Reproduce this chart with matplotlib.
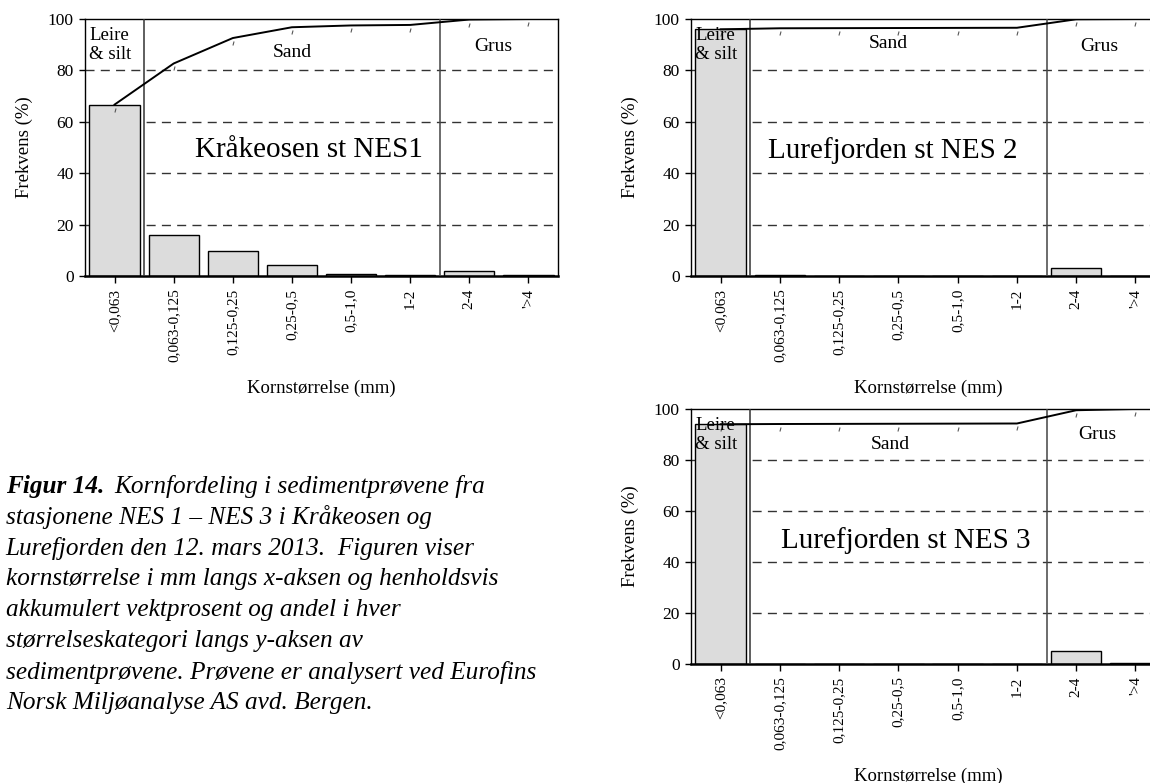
import numpy as np
import matplotlib
matplotlib.use('Agg')
import matplotlib.pyplot as plt
from matplotlib.transforms import ScaledTranslation

plt.rcParams['font.family'] = ['Liberation Serif', 'DejaVu Serif']

categories = ['<0,063', '0,063-0,125', '0,125-0,25', '0,25-0,5', '0,5-1,0', '1-2', '2-4', "'>4"]

# andel i hver stoerrelseskategori (%)
nes1 = [66.7, 16.0, 9.9, 4.2, 0.7, 0.2, 2.1, 0.2]
nes2 = [96.0, 0.4, 0.05, 0.05, 0.05, 0.05, 3.3, 0.1]
nes3 = [94.0, 0.1, 0.05, 0.05, 0.05, 0.05, 5.2, 0.5]

titles = ['Kråkeosen st NES1', 'Lurefjorden st NES 2', 'Lurefjorden st NES 3']

caption_lines = [
    'stasjonene NES 1 – NES 3 i Kråkeosen og',
    'Lurefjorden den 12. mars 2013.  Figuren viser',
    'kornstørrelse i mm langs x-aksen og henholdsvis',
    'akkumulert vektprosent og andel i hver',
    'størrelseskategori langs y-aksen av',
    'sedimentprøvene. Prøvene er analysert ved Eurofins',
    'Norsk Miljøanalyse AS avd. Bergen.',
]


def draw_panel(ax, values, title, title_pos, sand_pos, grus_pos):
    x = np.arange(len(categories))
    cum = np.cumsum(values)

    for g in [20, 40, 60, 80]:
        ax.axhline(g, color='#333333', lw=1, ls=(0, (6.5, 4.5)), zorder=0)

    ax.bar(x, values, width=0.85, color='#dcdcdc', edgecolor='black', lw=1, zorder=2)

    ax.axvline(0.5, color='#333333', lw=1.1, zorder=3)
    ax.axvline(5.5, color='#444444', lw=1.1, zorder=3)

    ax.plot(x, cum, color='black', lw=1.4, zorder=4)
    # small marks just under each point of the line
    off = ax.transData + ScaledTranslation(0, -5 / 100, ax.figure.dpi_scale_trans)
    ax.plot(x, cum, ls='none', marker=(2, 0, -15), ms=3, color='#555555',
            mew=0.8, transform=off, zorder=4)

    ax.set_xlim(-0.5, 7.5)
    ax.set_ylim(0, 100)
    ax.set_yticks([0, 20, 40, 60, 80, 100])
    ax.set_xticks(x)
    ax.set_xticklabels(categories, rotation=90, fontsize=11)
    ax.tick_params(axis='y', direction='out', length=4, width=1, pad=4, labelsize=12.5)
    ax.tick_params(axis='x', direction='out', length=5, width=1, pad=4)
    for s in ax.spines.values():
        s.set_linewidth(1)
    ax.spines['bottom'].set_linewidth(1.8)

    ax.set_ylabel('Frekvens (%)', fontsize=13.5)
    ax.yaxis.set_label_coords(-0.11, 0.5)
    ax.set_xlabel('Kornstørrelse (mm)', fontsize=13.5)
    ax.xaxis.set_label_coords(0.5, -0.405)

    ax.text(-0.43, 97, 'Leire\n& silt', fontsize=13.5, ha='left', va='top',
            linespacing=1.2, zorder=5)
    ax.text(sand_pos[0], sand_pos[1], 'Sand', fontsize=14, ha='center', va='center', zorder=5)
    ax.text(grus_pos[0], grus_pos[1], 'Grus', fontsize=14, ha='center', va='center', zorder=5)
    ax.text(title_pos[0], title_pos[1], title, fontsize=21, ha='center', va='center', zorder=5)


fig = plt.figure(figsize=(11.5, 7.83), dpi=100)

ax1 = fig.add_axes([0.0739, 0.6475, 0.4113, 0.3282])
ax2 = fig.add_axes([0.6009, 0.6475, 0.4122, 0.3282])
ax3 = fig.add_axes([0.6009, 0.1520, 0.4122, 0.3257])

draw_panel(ax1, nes1, titles[0], (3.29, 49), (3.0, 87), (6.4, 89.5))
draw_panel(ax2, nes2, titles[1], (2.9, 49), (2.83, 90.5), (6.39, 89.5))
draw_panel(ax3, nes3, titles[2], (3.13, 48.6), (2.86, 86), (6.36, 89.8))

# figure caption
cap_size = 18.2
y0 = 1 - 486 / 783
step = 31 / 783
t1 = fig.text(0.005, y0, 'Figur 14.', fontsize=cap_size, style='italic',
              weight='bold', va='center', ha='left')
ax1.annotate('Kornfordeling i sedimentprøvene fra', xy=(1, 0.5), xycoords=t1,
             xytext=(7, 0), textcoords='offset points', fontsize=cap_size,
             style='italic', va='center', ha='left')
for i, line in enumerate(caption_lines):
    fig.text(0.005, y0 - (i + 1) * step, line, fontsize=cap_size,
             style='italic', va='center', ha='left')

fig.savefig('out.png', dpi=100)
